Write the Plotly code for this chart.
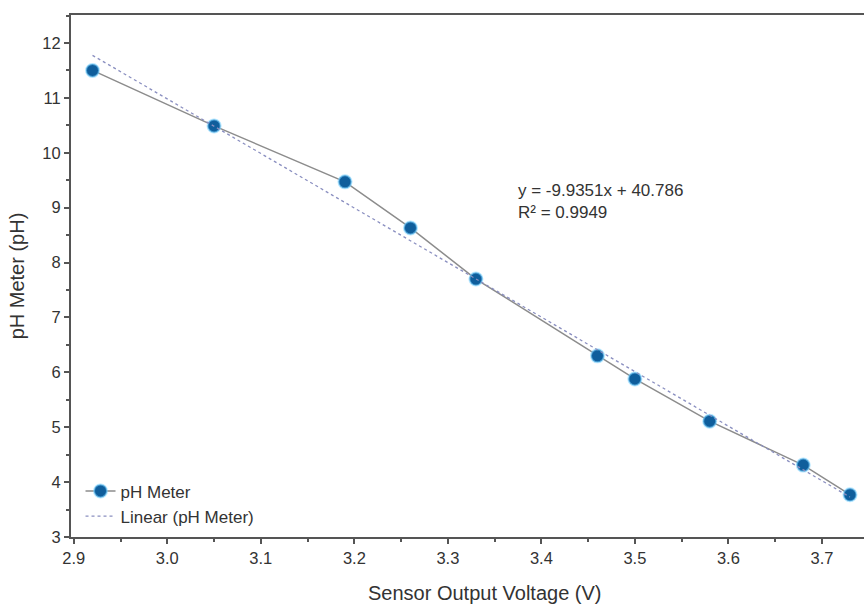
import plotly.graph_objects as go

voltage = [2.92, 3.05, 3.19, 3.26, 3.33, 3.46, 3.50, 3.58, 3.68, 3.73]
ph = [11.5, 10.49, 9.47, 8.63, 7.70, 6.30, 5.88, 5.11, 4.31, 3.77]
slope = -9.9351
intercept = 40.786
fit_x = [voltage[0], voltage[-1]]
fit_y = [slope * v + intercept for v in fit_x]

fig = go.Figure()
fig.add_trace(go.Scatter(
    x=voltage, y=ph, mode="lines+markers", name="pH Meter",
    line=dict(color="#8c8c8c", width=1.5),
    marker=dict(size=13, color="#0f5e9c", line=dict(color="rgba(120,210,255,0.55)", width=2)),
))
fig.add_trace(go.Scatter(
    x=fit_x, y=fit_y, mode="lines", name="Linear (pH Meter)",
    line=dict(color="#8a8fc0", width=1.3, dash="dot"),
))

fig.add_annotation(
    x=3.373, y=9.52, xref="x", yref="y", xanchor="left", yanchor="top",
    text="y = -9.9351x + 40.786<br>R² = 0.9949", showarrow=False, align="left",
    font=dict(family="Liberation Sans, Arial", size=17, color="#333333"),
)
fig.add_annotation(
    x=0.522, y=-0.107, xref="paper", yref="paper", xanchor="center", yanchor="middle",
    text="Sensor Output Voltage (V)", showarrow=False,
    font=dict(family="Liberation Sans, Arial", size=20, color="#333333"),
)

axis_common = dict(
    showgrid=False, zeroline=False, showline=True, linecolor="#555555", linewidth=2,
    ticks="outside", ticklen=5, tickwidth=1.5, tickcolor="#555555",
    tickfont=dict(family="Liberation Sans, Arial", size=16.5, color="#333333"),
    minor=dict(ticks="outside", ticklen=3, tickwidth=1.5, tickcolor="#555555"),
)

fig.update_layout(
    width=864, height=606,
    margin=dict(l=71, r=0, t=15, b=69),
    paper_bgcolor="white", plot_bgcolor="white",
    font=dict(family="Liberation Sans, Arial", color="#333333"),
    showlegend=True,
    legend=dict(x=0.012, y=0.005, xanchor="left", yanchor="bottom",
                bgcolor="rgba(0,0,0,0)", font=dict(size=17, color="#333333"),
                tracegroupgap=0, itemwidth=30),
    xaxis=dict(range=[2.897, 3.745], dtick=0.1, tickformat=".1f", mirror=True,
               **axis_common),
    yaxis=dict(range=[3, 12.51], dtick=1,
               title=dict(text="pH Meter (pH)", font=dict(size=20), standoff=12),
               **axis_common),
)
fig.update_xaxes(minor=dict(dtick=0.05))
fig.update_yaxes(minor=dict(dtick=0.5))

fig.write_html("out.html")
